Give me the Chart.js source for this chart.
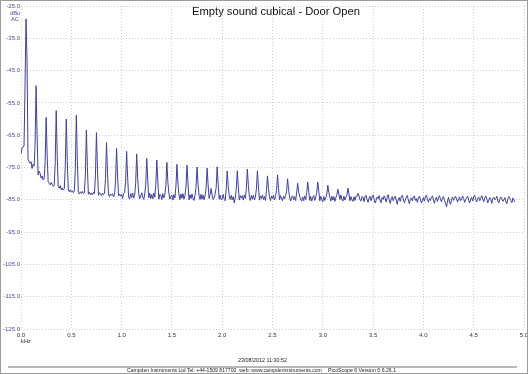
<!DOCTYPE html>
<html>
<head>
<meta charset="utf-8">
<title>Empty sound cubical - Door Open</title>
<script src="https://cdn.jsdelivr.net/npm/chart.js@4.4.1/dist/chart.umd.min.js"></script>
<style>
    body { margin: 0; background: #fff; font-family: "Liberation Sans", Arial, sans-serif; }
    #page { position: relative; width: 528px; height: 374px; overflow: hidden; background: #fff; }
    #page canvas { position: absolute; left: 0; top: 0; }
    .txt { position: absolute; white-space: pre; line-height: 1; }
    .blue { color: #4848b0; }
    #frame { position: absolute; left: 0; top: 0; width: 528px; height: 374px; box-sizing: border-box; border: 1px solid #9c9c9c; pointer-events: none; }
    #rule { position: absolute; left: 8px; top: 366px; width: 509px; height: 2px; background: #b8b8b8; }
</style>
</head>
<body>
<div id="page">
    <canvas id="spectrum" width="528" height="374"></canvas>
    <div class="txt" id="title" style="left:0; width:552px; text-align:center; top:6px; font-size:11.2px; color:#111;">Empty sound cubical - Door Open</div>
    <div class="txt blue" style="left:10px; top:11px; font-size:5.8px;">dBu</div>
    <div class="txt blue" style="left:11px; top:16.8px; font-size:5.8px;">AC</div>
    <div class="txt" style="left:21px; top:338.5px; font-size:5.8px; color:#333;">kHz</div>
    <div class="txt" style="left:0; width:525px; text-align:center; top:358.3px; font-size:5.4px; color:#222;">23/08/2012 11:30:52</div>
    <div id="rule"></div>
    <div class="txt" style="left:127px; top:368px; font-size:5.1px; color:#222;">Campden Instruments Ltd Tel: +44-1509 817700  web: www.campdeninstruments.com</div>
    <div class="txt" style="left:328px; top:368px; font-size:5.2px; color:#222;">PicoScope 6 Version 6.6.26.1</div>
    <div id="frame"></div>
</div>

<script>
// Spectrum bins, 10 Hz apart, starting at 0 Hz
const binKhz = 0.01;

// Level in dBu for each bin (one row = 0.1 kHz)
const levelDbu = [
    -70.8, -68.9, -68.6, -68.4, -50.0, -29.0, -42.0, -72.5, -73.0, -73.7,
    -73.2, -75.3, -74.0, -74.6, -67.8, -49.7, -65.2, -77.3, -76.1, -76.8,
    -78.3, -77.6, -78.9, -78.5, -73.2, -59.5, -71.2, -79.4, -79.9, -80.4,
    -79.6, -80.2, -80.9, -80.5, -73.6, -57.4, -71.3, -81.0, -81.4, -80.6,
    -81.9, -81.3, -82.0, -81.6, -75.0, -60.0, -72.9, -82.0, -82.5, -81.9,
    -82.6, -82.2, -82.8, -82.3, -75.3, -58.8, -72.9, -82.7, -83.2, -82.5,
    -83.0, -82.4, -83.1, -82.8, -77.0, -63.4, -75.0, -83.3, -82.6, -83.4,
    -82.9, -83.5, -82.7, -83.1, -77.4, -64.2, -75.5, -83.6, -82.8, -83.3,
    -83.7, -82.9, -83.4, -83.0, -78.4, -67.3, -76.8, -83.5, -84.0, -83.2,
    -83.6, -83.1, -84.1, -83.4, -79.0, -69.1, -77.6, -83.8, -83.2, -83.9,
    -83.3, -84.6, -83.0, -82.8, -79.4, -70.0, -78.0, -84.2, -84.8, -83.1,
    -84.3, -82.9, -84.5, -83.6, -79.7, -70.8, -78.5, -83.0, -84.7, -83.9,
    -82.8, -84.3, -84.9, -83.2, -80.2, -72.2, -79.0, -84.4, -83.0, -84.6,
    -83.4, -84.7, -82.9, -84.2, -80.3, -72.7, -79.2, -84.8, -83.3, -83.6,
    -84.9, -83.1, -84.4, -83.5, -80.6, -73.4, -79.6, -83.0, -84.8, -83.9,
    -83.5, -85.1, -83.4, -84.4, -80.8, -74.0, -79.8, -83.4, -84.9, -83.2,
    -84.5, -83.1, -84.8, -83.7, -81.0, -74.3, -80.0, -85.0, -83.4, -84.6,
    -83.2, -84.5, -85.2, -83.5, -81.1, -74.9, -80.2, -83.6, -84.9, -83.3,
    -84.8, -83.5, -85.0, -83.7, -81.3, -75.2, -80.4, -84.6, -83.3, -81.5,
    -83.6, -84.9, -84.3, -83.2, -81.2, -74.8, -80.3, -84.8, -83.5, -85.0,
    -84.5, -83.3, -84.9, -85.3, -81.6, -76.1, -80.8, -83.7, -84.9, -83.6,
    -85.0, -84.0, -86.0, -84.4, -81.6, -76.0, -80.8, -85.1, -83.7, -84.5,
    -83.7, -85.1, -83.5, -84.6, -81.5, -75.5, -80.6, -84.0, -85.2, -83.6,
    -84.8, -83.6, -85.0, -84.2, -81.6, -76.0, -80.8, -85.1, -83.8, -84.6,
    -83.5, -84.9, -84.0, -85.2, -82.2, -77.6, -81.5, -84.0, -85.3, -83.8,
    -84.6, -83.6, -85.1, -84.0, -82.1, -77.3, -81.4, -85.0, -83.7, -84.8,
    -85.3, -83.9, -84.7, -83.6, -82.4, -78.5, -81.9, -84.1, -85.4, -84.0,
    -83.8, -85.0, -84.0, -85.2, -82.9, -79.9, -82.5, -83.9, -85.1, -85.4,
    -84.1, -85.3, -83.8, -84.9, -82.8, -79.5, -82.3, -85.2, -84.0, -85.4,
    -84.2, -83.7, -85.2, -84.1, -82.8, -79.5, -82.3, -85.3, -83.9, -85.0,
    -85.6, -84.0, -85.2, -84.3, -83.2, -80.5, -82.8, -84.2, -85.4, -83.9,
    -85.1, -84.0, -85.5, -84.3, -83.5, -81.7, -83.3, -84.9, -83.5, -84.9,
    -85.4, -83.9, -85.1, -84.2, -83.5, -81.4, -83.2, -85.3, -84.0, -85.0,
    -85.5, -84.1, -85.2, -83.9, -84.0, -83.0, -83.8, -85.1, -85.4, -84.0,
    -84.2, -85.6, -84.0, -83.6, -84.9, -85.8, -84.4, -83.9, -85.3, -84.1,
    -83.5, -84.8, -86.0, -85.2, -84.1, -84.6, -83.7, -85.4, -85.9, -84.3,
    -84.9, -83.8, -84.5, -85.7, -84.2, -83.4, -85.0, -86.1, -84.7, -84.0,
    -85.3, -84.4, -83.9, -85.1, -86.4, -84.8, -84.3, -85.5, -84.0, -83.6,
    -84.7, -85.9, -85.1, -84.2, -83.7, -85.0, -86.2, -84.9, -84.4, -85.3,
    -84.1, -83.8, -85.2, -84.6, -85.8, -84.5, -83.9, -84.8, -86.0, -85.1,
    -84.3, -85.4, -84.0, -83.5, -84.9, -85.7, -84.6, -85.2, -84.1, -83.8,
    -85.0, -86.1, -84.7, -84.2, -85.5, -84.3, -83.7, -84.9, -85.6, -84.4,
    -84.0, -85.3, -86.0, -87.2, -85.4, -84.2, -85.9, -86.4, -84.8, -84.1,
    -85.2, -84.5, -83.9, -84.8, -85.7, -84.6, -84.1, -85.3, -84.7, -83.8,
    -84.6, -85.8, -85.0, -84.3, -83.9, -85.1, -86.0, -84.9, -84.2, -85.4,
    -84.0, -83.6, -84.9, -85.7, -84.5, -84.1, -85.3, -84.6, -83.7, -84.8,
    -85.6, -84.4, -83.8, -84.7, -85.9, -85.1, -84.3, -84.9, -86.1, -84.5,
    -84.2, -85.0, -84.6, -83.9, -85.4, -86.0, -84.8, -84.1, -84.7, -85.5,
    -84.9, -84.3, -85.6, -86.2, -84.7, -84.0, -84.6, -85.3, -85.9, -84.4,
    -85.1, -85.7
];

// Axis ranges and tick spacing
const freqRange = [0, 5];
const freqStep = 0.5;
const levelRange = [-125, -25];
const levelStep = 10;

const points = levelDbu.map((v, i) => ({ x: i * binKhz, y: v }));

const gridDots = { display: false, dash: [1, 2] };

new Chart(document.getElementById('spectrum'), {
    type: 'line',
    data: {
        datasets: [{
            data: points,
            borderColor: '#3e3ea8',
            borderWidth: 1,
            pointRadius: 0,
            tension: 0,
            fill: false
        }]
    },
    options: {
        responsive: false,
        animation: false,
        layout: { padding: { top: 6, right: 4, left: 0, bottom: 0 } },
        plugins: {
            legend: { display: false },
            tooltip: { enabled: false }
        },
        scales: {
            x: {
                type: 'linear',
                min: freqRange[0],
                max: freqRange[1],
                grid: { color: '#cfcfcf', drawTicks: false },
                border: gridDots,
                ticks: {
                    stepSize: freqStep,
                    padding: 3,
                    color: '#333',
                    font: { family: 'Liberation Sans', size: 6 },
                    maxRotation: 0,
                    autoSkip: false,
                    callback: v => v.toFixed(1)
                },
                // let the last label run off the edge like the original
                afterFit: scale => {
                    scale.height = 45;
                    scale.paddingRight = 0;
                    scale.paddingLeft = 0;
                }
            },
            y: {
                min: levelRange[0],
                max: levelRange[1],
                grid: { color: '#cfcfcf', drawTicks: false },
                border: gridDots,
                ticks: {
                    stepSize: levelStep,
                    padding: 1,
                    color: '#4848b0',
                    font: { family: 'Liberation Sans', size: 6 },
                    autoSkip: false,
                    callback: v => v.toFixed(1)
                },
                afterFit: scale => { scale.width = 21; }
            }
        }
    }
});
</script>
</body>
</html>
